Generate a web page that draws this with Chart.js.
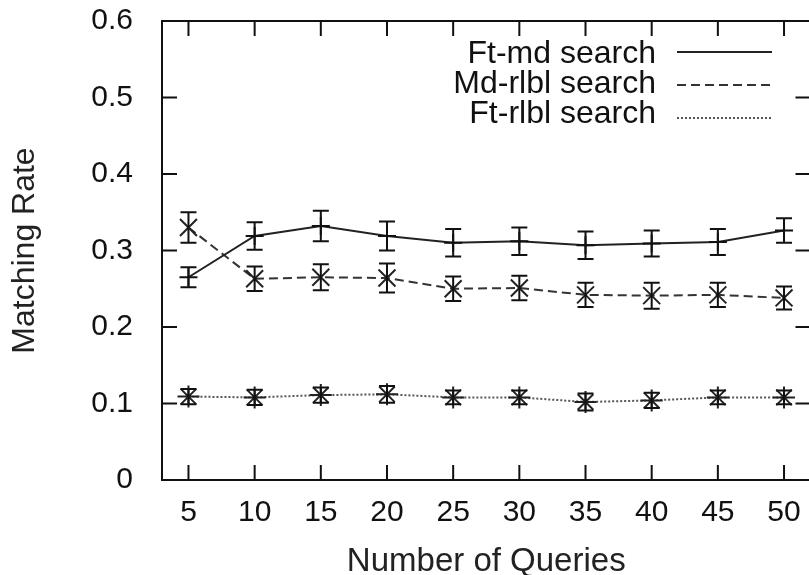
<!DOCTYPE html>
<html>
<head>
<meta charset="utf-8">
<title>Matching Rate vs Number of Queries</title>
<script src="https://cdn.jsdelivr.net/npm/chart.js@4.4.1/dist/chart.umd.min.js"></script>
<style>
    html, body { margin: 0; padding: 0; background: #fff; overflow: hidden; }
    #wrap { width: 812px; height: 575px; }
</style>
</head>
<body>
<div id="wrap"><canvas id="rateChart" width="812" height="575"></canvas></div>
<script>
// values
const queries = [5, 10, 15, 20, 25, 30, 35, 40, 45, 50];
const yTicks = [0, 0.1, 0.2, 0.3, 0.4, 0.5, 0.6];

const ftMdRate = [0.265, 0.319, 0.332, 0.319, 0.310, 0.312, 0.307, 0.309, 0.311, 0.326];
const ftMdErr  = [0.013, 0.018, 0.020, 0.019, 0.018, 0.018, 0.018, 0.017, 0.017, 0.016];

const mdRlblRate = [0.330, 0.263, 0.265, 0.264, 0.250, 0.251, 0.242, 0.241, 0.242, 0.238];
const mdRlblErr  = [0.020, 0.016, 0.017, 0.019, 0.016, 0.016, 0.016, 0.017, 0.016, 0.015];

const ftRlblRate = [0.109, 0.108, 0.111, 0.112, 0.108, 0.108, 0.102, 0.104, 0.108, 0.108];
const ftRlblErr  = [0.010, 0.010, 0.010, 0.011, 0.009, 0.009, 0.011, 0.010, 0.009, 0.009];

const FONT = '"Liberation Sans", Arial, sans-serif';

const toPoints = (vals) => vals.map((v, i) => ({ x: queries[i], y: v }));

// --- error bars (drawn through the chart's scales) ---
const errorBars = {
    id: 'errorBars',
    afterDatasetsDraw(chart) {
        const { ctx, scales: { x, y } } = chart;
        ctx.save();
        ctx.strokeStyle = '#111';
        ctx.lineWidth = 2;
        ctx.setLineDash([]);
        chart.data.datasets.forEach(ds => {
            ds.data.forEach((p, i) => {
                const px = x.getPixelForValue(p.x);
                const top = y.getPixelForValue(p.y + ds.errors[i]);
                const bot = y.getPixelForValue(p.y - ds.errors[i]);
                ctx.beginPath();
                ctx.moveTo(px, top); ctx.lineTo(px, bot);
                ctx.moveTo(px - 8, top); ctx.lineTo(px + 8, top);
                ctx.moveTo(px - 8, bot); ctx.lineTo(px + 8, bot);
                ctx.stroke();
            });
        });
        ctx.restore();
    }
};

// --- gnuplot style frame with inward ticks on all sides ---
const frameTicks = {
    id: 'frameTicks',
    beforeDatasetsDraw(chart) {
        const { ctx, chartArea: a, scales: { x, y } } = chart;
        ctx.save();
        ctx.strokeStyle = '#111';
        ctx.lineWidth = 2;
        ctx.strokeRect(a.left, a.top, a.right - a.left, a.bottom - a.top);
        ctx.beginPath();
        x.ticks.forEach(t => {
            const px = x.getPixelForValue(t.value);
            ctx.moveTo(px, a.bottom); ctx.lineTo(px, a.bottom - 15);
            ctx.moveTo(px, a.top); ctx.lineTo(px, a.top + 15);
        });
        y.ticks.forEach(t => {
            const py = y.getPixelForValue(t.value);
            ctx.moveTo(a.left, py); ctx.lineTo(a.left + 15, py);
            ctx.moveTo(a.right, py); ctx.lineTo(a.right - 15, py);
        });
        ctx.stroke();
        ctx.restore();
    }
};

// --- legend inside the plot, text right-aligned with sample line after it ---
const sideLegend = {
    id: 'sideLegend',
    afterDraw(chart) {
        const { ctx } = chart;
        const textY = [54, 84, 114];
        const lineY = [52, 85, 118];
        ctx.save();
        ctx.font = '32px ' + FONT;
        ctx.textAlign = 'right';
        ctx.textBaseline = 'middle';
        ctx.fillStyle = '#111';
        chart.data.datasets.forEach((ds, i) => {
            ctx.fillText(ds.label, 656, textY[i]);
            ctx.strokeStyle = ds.borderColor;
            ctx.lineWidth = ds.borderWidth;
            ctx.setLineDash(ds.borderDash || []);
            ctx.beginPath();
            ctx.moveTo(677, lineY[i]);
            ctx.lineTo(772, lineY[i]);
            ctx.stroke();
        });
        ctx.restore();
    }
};

const ctx = document.getElementById('rateChart');
new Chart(ctx, {
    type: 'line',
    data: {
        datasets: [{
            label: 'Ft-md search',
            data: toPoints(ftMdRate),
            errors: ftMdErr,
            borderColor: '#222',
            borderWidth: 2,
            pointStyle: 'cross',
            pointRadius: 9,
            pointBorderColor: '#111',
            pointBorderWidth: 2
        }, {
            label: 'Md-rlbl search',
            data: toPoints(mdRlblRate),
            errors: mdRlblErr,
            borderColor: '#333',
            borderWidth: 2,
            borderDash: [9, 5],
            pointStyle: 'crossRot',
            pointRadius: 12,
            pointBorderColor: '#222',
            pointBorderWidth: 2
        }, {
            label: 'Ft-rlbl search',
            data: toPoints(ftRlblRate),
            errors: ftRlblErr,
            borderColor: '#555',
            borderWidth: 2,
            borderDash: [2, 2],
            pointStyle: 'star',
            pointRadius: 11,
            pointBorderColor: '#222',
            pointBorderWidth: 2
        }]
    },
    options: {
        responsive: false,
        animation: false,
        devicePixelRatio: 1,
        layout: { autoPadding: false, padding: { top: 21, right: 1.5, left: 0, bottom: 0 } },
        plugins: { legend: { display: false }, tooltip: { enabled: false } },
        scales: {
            x: {
                type: 'linear',
                min: 3,
                max: 52,
                afterBuildTicks: (scale) => { scale.ticks = queries.map(v => ({ value: v })); },
                afterFit: (scale) => {
                    scale.height = 95;
                    scale.paddingLeft = 0;
                    scale.paddingRight = 0;
                },
                grid: { display: false },
                border: { display: false },
                ticks: {
                    autoSkip: false,
                    maxRotation: 0,
                    padding: 7,
                    color: '#111',
                    font: { family: FONT, size: 30 }
                },
                title: {
                    display: true,
                    text: 'Number of Queries',
                    color: '#222',
                    padding: 0,
                    font: { family: FONT, size: 33, lineHeight: 0.8 }
                }
            },
            y: {
                min: 0,
                max: 0.6,
                afterBuildTicks: (scale) => { scale.ticks = yTicks.map(v => ({ value: v })); },
                afterFit: (scale) => {
                    scale.width = 162;
                    scale.paddingTop = 0;
                    scale.paddingBottom = 0;
                },
                grid: { display: false },
                border: { display: false },
                ticks: {
                    padding: 21,
                    color: '#111',
                    font: { family: FONT, size: 30 }
                },
                title: {
                    display: true,
                    text: 'Matching Rate',
                    color: '#222',
                    padding: 0,
                    font: { family: FONT, size: 32, lineHeight: 1.6 }
                }
            }
        }
    },
    plugins: [frameTicks, errorBars, sideLegend]
});
</script>
</body>
</html>
